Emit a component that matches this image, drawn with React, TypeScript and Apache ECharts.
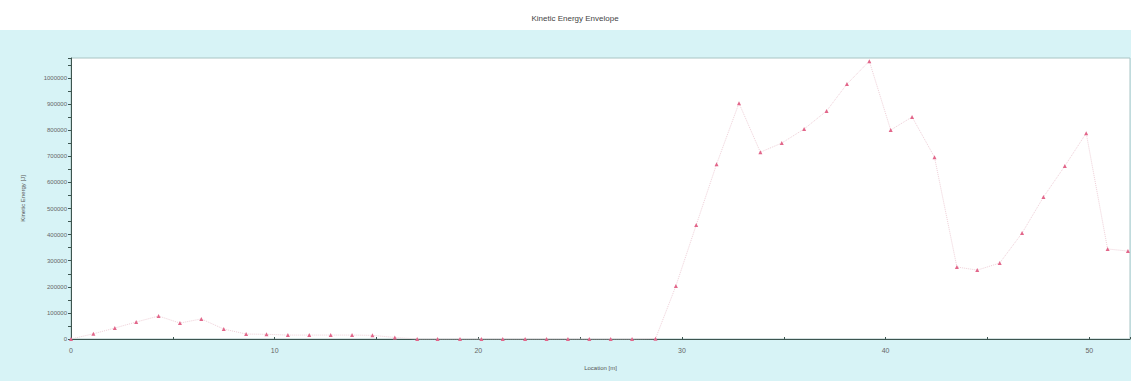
import React, { useEffect, useRef } from "react";
import * as echarts from "echarts";

const titleText = "Kinetic Energy Envelope";
const xAxisName = "Location [m]";
const yAxisName = "Kinetic Energy [J]";

const locations = [
  0, 1.1, 2.15, 3.2, 4.3, 5.35, 6.4, 7.5, 8.6, 9.6, 10.65, 11.7, 12.75, 13.8, 14.8,
  15.9, 17.0, 18.0, 19.1, 20.15, 21.2, 22.3, 23.35, 24.4, 25.45, 26.5, 27.55, 28.7,
  29.7, 30.7, 31.7, 32.8, 33.85, 34.9, 36.0, 37.1, 38.1, 39.2, 40.25, 41.3, 42.4,
  43.5, 44.5, 45.6, 46.7, 47.75, 48.8, 49.85, 50.9, 51.9,
];
const energies = [
  0, 20000, 42000, 65000, 88000, 61000, 77000, 38000, 19000, 18000, 15000, 15000,
  15000, 15000, 14000, 6000, 0, 0, 0, 0, 0, 0, 0, 0, 0, 0, 0, 1000,
  203000, 437000, 670000, 904000, 716000, 751000, 805000, 874000, 977000, 1065000,
  801000, 851000, 697000, 276000, 264000, 291000, 406000, 544000, 663000, 789000,
  345000, 337000,
];

export default function App() {
  const ref = useRef<HTMLDivElement>(null);
  useEffect(() => {
    if (!ref.current) return;
    const chart = echarts.init(ref.current, undefined, { renderer: "svg" });
    const data = locations.map((x, i) => [x, energies[i]]);
    chart.setOption({
      animation: false,
      backgroundColor: "#ffffff",
      graphic: [
        {
          type: "rect",
          z: -10,
          silent: true,
          shape: { x: 0, y: 30, width: 1131, height: 351 },
          style: { fill: "#d7f3f6" },
        },
      ],
      title: {
        text: titleText,
        left: 570,
        top: 9,
        textAlign: "center",
        textStyle: { fontSize: 8, color: "#444", fontWeight: "normal", fontFamily: "Liberation Sans" },
      },
      grid: {
        left: 71,
        right: 1,
        top: 58,
        bottom: 42,
        show: true,
        backgroundColor: "#ffffff",
        borderColor: "#a8c4c4",
        borderWidth: 1,
        containLabel: false,
      },
      xAxis: {
        type: "value",
        min: 0,
        max: 52,
        interval: 10,
        name: xAxisName,
        nameLocation: "middle",
        nameGap: 26,
        nameTextStyle: { fontSize: 6, color: "#555", fontFamily: "Liberation Sans" },
        axisLine: { show: true, onZero: false, lineStyle: { color: "#3d5550", width: 1 } },
        axisTick: { show: true, length: 2, inside: true, lineStyle: { color: "#3d5550" } },
        minorTick: { show: true, splitNumber: 2, length: 2, lineStyle: { color: "#3d5550" } },
        axisLabel: {
          fontSize: 7,
          color: "#666",
          margin: 8,
          showMaxLabel: false,
          fontFamily: "Liberation Sans",
        },
        splitLine: { show: false },
      },
      yAxis: {
        type: "value",
        min: 0,
        max: 1077000,
        interval: 100000,
        name: yAxisName,
        nameLocation: "middle",
        nameGap: 45,
        nameTextStyle: { fontSize: 6, color: "#555", fontFamily: "Liberation Sans" },
        axisLine: { show: true, lineStyle: { color: "#3d5550", width: 1 } },
        axisTick: { show: true, length: 3, lineStyle: { color: "#3d5550" } },
        minorTick: { show: true, splitNumber: 2, length: 3, lineStyle: { color: "#3d5550" } },
        axisLabel: {
          fontSize: 6,
          color: "#666",
          margin: 4,
          showMaxLabel: false,
          fontFamily: "Liberation Sans",
          formatter: (v: number) => String(v),
        },
        splitLine: { show: false },
      },
      series: [
        {
          type: "line",
          data,
          symbol: "triangle",
          symbolSize: 4,
          itemStyle: { color: "#e2668a" },
          lineStyle: { color: "#efd0d8", width: 1, type: "dotted" },
          clip: false,
        },
      ],
    });
    return () => chart.dispose();
  }, []);
  return (
    <div
      ref={ref}
      style={{ position: "fixed", left: 0, top: 0, width: 1131, height: 381 }}
    />
  );
}
